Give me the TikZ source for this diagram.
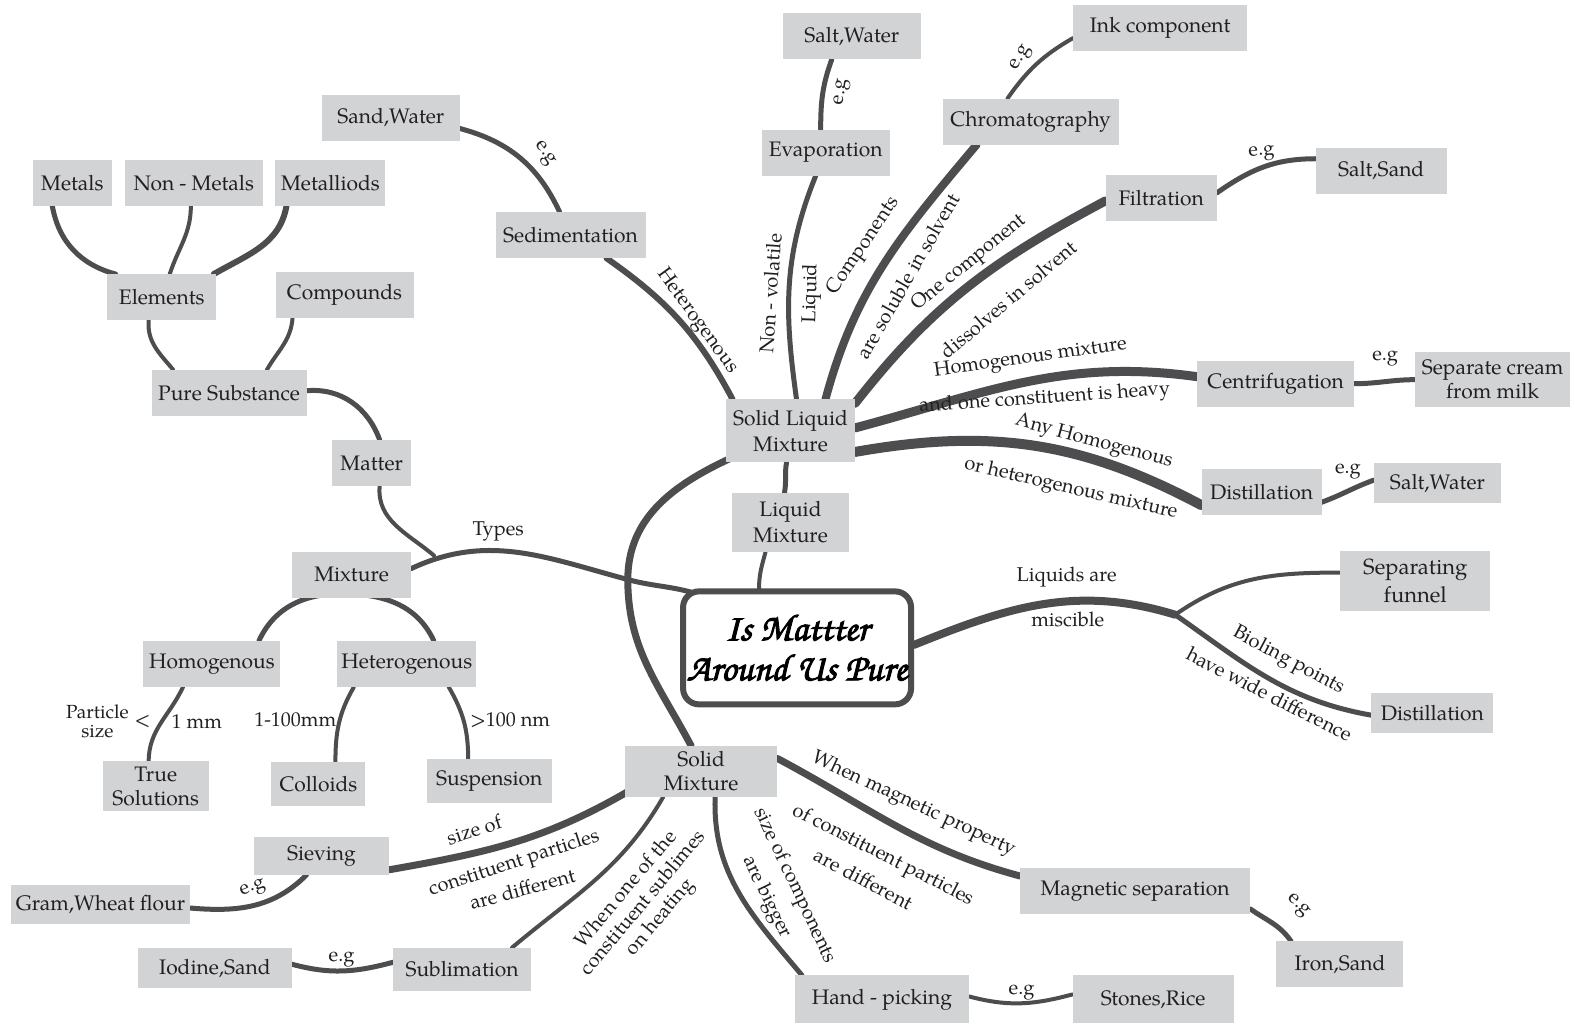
\documentclass[tikz,border=0pt]{standalone}
\usepackage{fontspec}
\setmainfont{texgyrepagella}[Extension=.otf,UprightFont=*-regular,BoldFont=*-bold,ItalicFont=*-italic,BoldItalicFont=*-bolditalic]
\newfontfamily\titlefont{texgyrechorus-mediumitalic.otf}[FakeBold=2.5]
\usetikzlibrary{calc}
\definecolor{boxgray}{HTML}{D1D3D4}
\definecolor{linegray}{HTML}{4D4D4F}
\definecolor{txt}{HTML}{231F20}
\pgfdeclarelayer{bg}
\pgfsetlayers{bg,main}
\begin{document}
\begin{tikzpicture}[x=1.0045pt,y=1.0045pt,
  box/.style={fill=boxgray, text=txt, font=\fontsize{21}{25}\selectfont, inner xsep=4pt, inner ysep=0pt, minimum height=46pt, align=center},
  lbl/.style={text=txt, font=\fontsize{20}{22}\selectfont, inner sep=0pt, align=center},
  conn/.style={draw=linegray, line cap=round, line width=#1},
  conn/.default=5pt]
\useasboundingbox (0,0) rectangle (1568,1019);

% ---------- nodes ----------
\node[box, minimum width=138pt] (saltw1) at (848,1019-36) {Salt,Water};
\node[box, minimum width=174pt] (ink) at (1155,1019-28) {Ink component};
\node[box, minimum width=138pt] (sandw) at (389,1019-117) {Sand,Water};
\node[box, minimum width=128pt] (evap) at (822,1019-152) {Evaporation};
\node[box, minimum width=176pt] (chrom) at (1026,1019-121) {Chromatography};
\node[box, minimum width=79pt] (metals) at (72,1019-182) {Metals};
\node[box, minimum width=138pt] (nonmetals) at (193,1019-182) {Non - Metals};
\node[box, minimum width=110pt] (metalloids) at (329,1019-182) {Metalliods};
\node[box, minimum width=131pt] (saltsand) at (1375,1019-170) {Salt,Sand};
\node[box, minimum width=111pt] (filt) at (1156,1019-197) {Filtration};
\node[box, minimum width=150pt] (sedim) at (568,1019-234) {Sedimentation};
\node[box, minimum width=109pt] (elements) at (161,1019-296) {Elements};
\node[box, minimum width=138pt] (compounds) at (343,1019-294) {Compounds};
\node[box, minimum width=155pt] (pure) at (228,1019-391) {Pure Substance};
\node[box, minimum width=157pt] (centrif) at (1270,1019-382) {Centrifugation};
\node[box, minimum width=155pt, minimum height=55pt, font=\fontsize{21}{24}\selectfont] (cream) at (1486,1019-378) {Separate cream\\from milk};
\node[box, minimum width=129pt, minimum height=63pt, font=\fontsize{21}{26}\selectfont] (slm) at (787,1019-429) {Solid Liquid\\Mixture};
\node[box, minimum width=79pt] (matter) at (370,1019-461) {Matter};
\node[box, minimum width=120pt] (dist1) at (1256,1019-490) {Distillation};
\node[box, minimum width=127pt, minimum height=40pt] (saltw2) at (1431,1019-481) {Salt,Water};
\node[box, minimum width=117pt, minimum height=59pt, font=\fontsize{21}{26}\selectfont] (lm) at (787,1019-520) {Liquid\\Mixture};
\node[box, minimum width=119pt] (mixture) at (350,1019-572) {Mixture};
\node[box, minimum width=150pt, minimum height=60pt, font=\fontsize{22}{28}\selectfont] (funnel) at (1409,1019-578) {Separating\\funnel};
\node[box, minimum width=137pt] (homog) at (211,1019-661) {Homogenous};
\node[box, minimum width=136pt] (hetero) at (405,1019-661) {Heterogenous};
\node[box, minimum width=122pt, minimum height=40pt] (dist2) at (1426,1019-710) {Distillation};
\node[box, minimum width=106pt, minimum height=50pt, font=\fontsize{21}{24}\selectfont] (truesol) at (155,1019-783) {True\\Solutions};
\node[box, minimum width=94pt, minimum height=44pt] (colloids) at (317,1019-781) {Colloids};
\node[box, minimum width=125pt, minimum height=44pt] (susp) at (487,1019-778) {Suspension};
\node[box, minimum width=152pt, minimum height=51pt, font=\fontsize{21}{24}\selectfont] (solidm) at (698,1019-768) {Solid\\Mixture};
\node[box, minimum width=135pt, minimum height=38pt] (sieving) at (320,1019-852) {Sieving};
\node[box, minimum width=179pt, minimum height=39pt] (gram) at (100,1019-900) {Gram,Wheat flour};
\node[box, minimum width=230pt] (magsep) at (1130,1019-887) {Magnetic separation};
\node[box, minimum width=154pt, minimum height=40pt] (iodine) at (214,1019-964) {Iodine,Sand};
\node[box, minimum width=138pt, minimum height=43pt] (sublim) at (460,1019-965) {Sublimation};
\node[box, minimum width=127pt] (ironsand) at (1334,1019-960) {Iron,Sand};
\node[box, minimum width=174pt, minimum height=48pt] (handpick) at (878,1019-995) {Hand - picking};
\node[box, minimum width=161pt, minimum height=48pt] (stones) at (1148,1019-995) {Stones,Rice};

\node[draw=linegray, line width=6pt, rounded corners=16pt, fill=white, minimum width=228pt, minimum height=113pt, align=center, text=black, font=\titlefont\fontsize{38}{40}\selectfont] (center) at (793.5,1019-645) {Is Mattter\\Around Us Pure};

\coordinate (tj) at (432,1019-553);
\coordinate (arcj) at (625,1019-577);
\coordinate (lj) at (1170,1019-612);

% ---------- labels ----------
\node[lbl] (lTypes) at (496,1019-529) {Types};
\node[lbl, rotate=-55] (lEg1) at (542,1019-153) {e.g};
\node[lbl, rotate=-54] (lHet) at (694,1019-320) {Heterogenous};
\node[lbl, rotate=82] (lEg2) at (839,1019-92) {e.g};
\node[lbl, rotate=86] (lNV) at (767,1019-292) {Non - volatile};
\node[lbl, rotate=88] (lLiq) at (808,1019-292) {Liquid};
\node[lbl, rotate=56] (lComp) at (860,1019-245) {Components};
\node[lbl, rotate=60] (lSol) at (904,1019-275) {are soluble in solvent};
\node[lbl, rotate=60] (lEg3) at (1017,1019-58) {e.g};
\node[lbl, rotate=39] (lOne) at (965,1019-262) {One component};
\node[lbl, rotate=40] (lDis) at (1004,1019-298) {dissolves in solvent};
\node[lbl, rotate=5] (lEg4) at (1256,1019-153) {e.g};
\node[lbl, rotate=8] (lHm) at (1026,1019-357) {Homogenous mixture};
\node[lbl, rotate=4] (lHeavy) at (1040,1019-397) {and one constituent is heavy};
\node[lbl] (lEg5) at (1379,1019-357) {e.g};
\node[lbl, rotate=-15] (lAny) at (1089,1019-440) {Any Homogenous};
\node[lbl, rotate=-13] (lOr) at (1066,1019-487) {or heterogenous mixture};
\node[lbl] (lEg6) at (1342,1019-470) {e.g};
\node[lbl] (lLiqA) at (1062,1019-574) {Liquids are};
\node[lbl] (lMis) at (1063,1019-617) {miscible};
\node[lbl, rotate=-28] (lBoil) at (1283,1019-658) {Bioling points};
\node[lbl, rotate=-27] (lWide) at (1264,1019-691) {have wide difference};
\node[lbl, font=\fontsize{19}{19}\selectfont] (lPart) at (97,1019-718) {Particle\\size};
\node[lbl] (lLt) at (142,1019-718) {<};
\node[lbl] (l1mm) at (196,1019-718) {1 mm};
\node[lbl] (l1100) at (294,1019-717) {1-100mm};
\node[lbl] (l100nm) at (508,1019-717) {>100 nm};
\node[lbl, rotate=18] (lSize) at (472,1019-826) {size of};
\node[lbl, rotate=18] (lCP) at (512,1019-860) {constituent particles};
\node[lbl, rotate=15] (lAD) at (520,1019-885) {are different};
\node[lbl, rotate=20] (lEg7) at (252,1019-885) {e.g};
\node[lbl, rotate=50] (lSub) at (641,1019-900) {When one of the\\constituent sublimes\\on heating};
\node[lbl] (lEg8) at (340,1019-955) {e.g};
\node[lbl, rotate=-65] (lSC) at (791,1019-882) {size of components};
\node[lbl, rotate=-64] (lBig) at (763,1019-893) {are bigger};
\node[lbl] (lEg9) at (1017,1019-988) {e.g};
\node[lbl, rotate=-25] (lMag) at (910,1019-801) {When magnetic property};
\node[lbl, rotate=-27] (lOCP) at (879,1019-852) {of constituent particles};
\node[lbl, rotate=-28] (lAD2) at (860,1019-875) {are different};
\node[lbl, rotate=-45] (lEg10) at (1292,1019-902) {e.g};

% ---------- connectors ----------
\begin{pgfonlayer}{bg}
\fill[white] (0,0) rectangle (1568,1019);
\draw[conn=5pt] ([xshift=-20pt]metals.south) to[out=-80,in=165] ([xshift=-46pt]elements.north);
\draw[conn=4pt] ([xshift=-3pt]nonmetals.south) to[out=-90,in=72] ([xshift=8pt]elements.north);
\draw[conn=6pt] ([xshift=-44pt]metalloids.south) to[out=-100,in=30] ([xshift=52pt]elements.north);
\draw[conn=4pt] ([xshift=-13pt]elements.south) to[out=-95,in=130] ([xshift=-56pt]pure.north);
\draw[conn=4pt] ([xshift=-52pt]compounds.south) to[out=-95,in=60] ([xshift=38pt]pure.north);
\draw[conn=5pt] ([yshift=2pt]pure.east) to[out=5,in=110] ([xshift=8pt]matter.north);
\draw[conn=4pt] ([xshift=8pt]matter.south) to[out=-95,in=140] (tj);
\draw[conn=5pt] ([yshift=6pt]mixture.east) to[out=25,in=165] (arcj) to[out=-15,in=165] ([xshift=12pt,yshift=-4pt]center.north west);
\draw[conn=7pt] ([xshift=4pt,yshift=4pt]slm.south west) to[out=205,in=90] (arcj) to[out=-90,in=118] ([xshift=-10pt]solidm.north);
\draw[conn=5pt] ([xshift=-4pt]slm.south) to[out=-100,in=80] ([xshift=-6pt]lm.north);
\draw[conn=4pt] ([xshift=-25pt]lm.south) to[out=-105,in=90] ([xshift=-38pt]center.north);
\draw[conn=5pt] ([xshift=-10pt,yshift=4pt]mixture.south) to[out=180,in=65] ([xshift=47pt]homog.north);
\draw[conn=5pt] ([xshift=-10pt,yshift=4pt]mixture.south) to[out=0,in=115] ([xshift=27pt]hetero.north);
\draw[conn=4pt] ([xshift=-29pt]homog.south) to[out=-115,in=90] ([xshift=-7pt]truesol.north);
\draw[conn=4pt] ([xshift=-53pt]hetero.south) to[out=-120,in=90] ([xshift=17pt]colloids.north);
\draw[conn=4pt] ([xshift=42pt]hetero.south) to[out=-60,in=90] ([xshift=-21pt]susp.north);
% solid liquid branch
\draw[conn=5pt] ([yshift=-11pt]sandw.east) to[out=-15,in=115] ([xshift=-11pt]sedim.north);
\draw[conn=6pt] ([xshift=36pt]sedim.south) to[out=-35,in=118] ([xshift=-58pt]slm.north);
\draw[conn=5pt] ([xshift=-20pt]saltw1.south) to[out=-110,in=90] ([xshift=-5pt]evap.north);
\draw[conn=5pt] ([xshift=-10pt]evap.south) to[out=-112,in=98] ([xshift=6pt]slm.north);
\draw[conn=8pt] ([xshift=-54pt]chrom.south) to[out=-130,in=75] ([xshift=35pt]slm.north);
\draw[conn=4pt] ([xshift=-23pt]chrom.north) to[out=55,in=210] ([yshift=-10pt]ink.west);
\draw[conn=9pt] ([yshift=-3pt]filt.west) to[out=208,in=52] ([yshift=-4pt]slm.north east);
\draw[conn=5pt] ([yshift=5pt]filt.east) to[out=35,in=180] ([yshift=12pt]saltsand.west);
\draw[conn=9pt] ([yshift=7pt]centrif.west) to[out=172,in=15] ([yshift=3pt]slm.east);
\draw[conn=5pt] (centrif.east) to[out=0,in=180] (cream.west);
\draw[conn=10pt] ([yshift=-21pt]slm.east) to[out=10,in=152] ([yshift=-13pt]dist1.west);
\draw[conn=5pt] ([yshift=-10pt]dist1.east) to[out=20,in=200] ([yshift=3pt]saltw2.west);
% liquid branch
\draw[conn=8pt] ([yshift=3pt]center.east) to[out=22,in=163] (lj);
\draw[conn=4pt] (lj) to[out=35,in=180] ([yshift=8pt]funnel.west);
\draw[conn=5pt] (lj) to[out=-35,in=170] ([yshift=-2pt]dist2.west);
% solid branch
\draw[conn=7pt] ([xshift=2pt,yshift=5pt]solidm.south west) to[out=210,in=10] ([yshift=-14pt]sieving.east);
\draw[conn=5pt] ([xshift=-15pt]sieving.south) to[out=-135,in=-5] ([yshift=-4pt]gram.east);
\draw[conn=4pt] ([xshift=-38pt]solidm.south) to[out=-120,in=40] ([xshift=50pt]sublim.north);
\draw[conn=5pt] ([yshift=7pt]sublim.west) to[out=195,in=-15] ([yshift=4pt]iodine.east);
\draw[conn=5pt] ([xshift=14pt]solidm.south) to[out=-92,in=130] ([xshift=-80pt]handpick.north);
\draw[conn=4pt] ([yshift=3pt]handpick.east) to[out=-15,in=195] ([yshift=5pt]stones.west);
\draw[conn=7pt] ([yshift=13pt]solidm.east) to[out=-28,in=165] ([yshift=15pt]magsep.west);
\draw[conn=5pt] ([yshift=-18pt]magsep.east) to[out=-35,in=125] ([xshift=-49pt]ironsand.north);
\end{pgfonlayer}
\end{tikzpicture}
\end{document}
